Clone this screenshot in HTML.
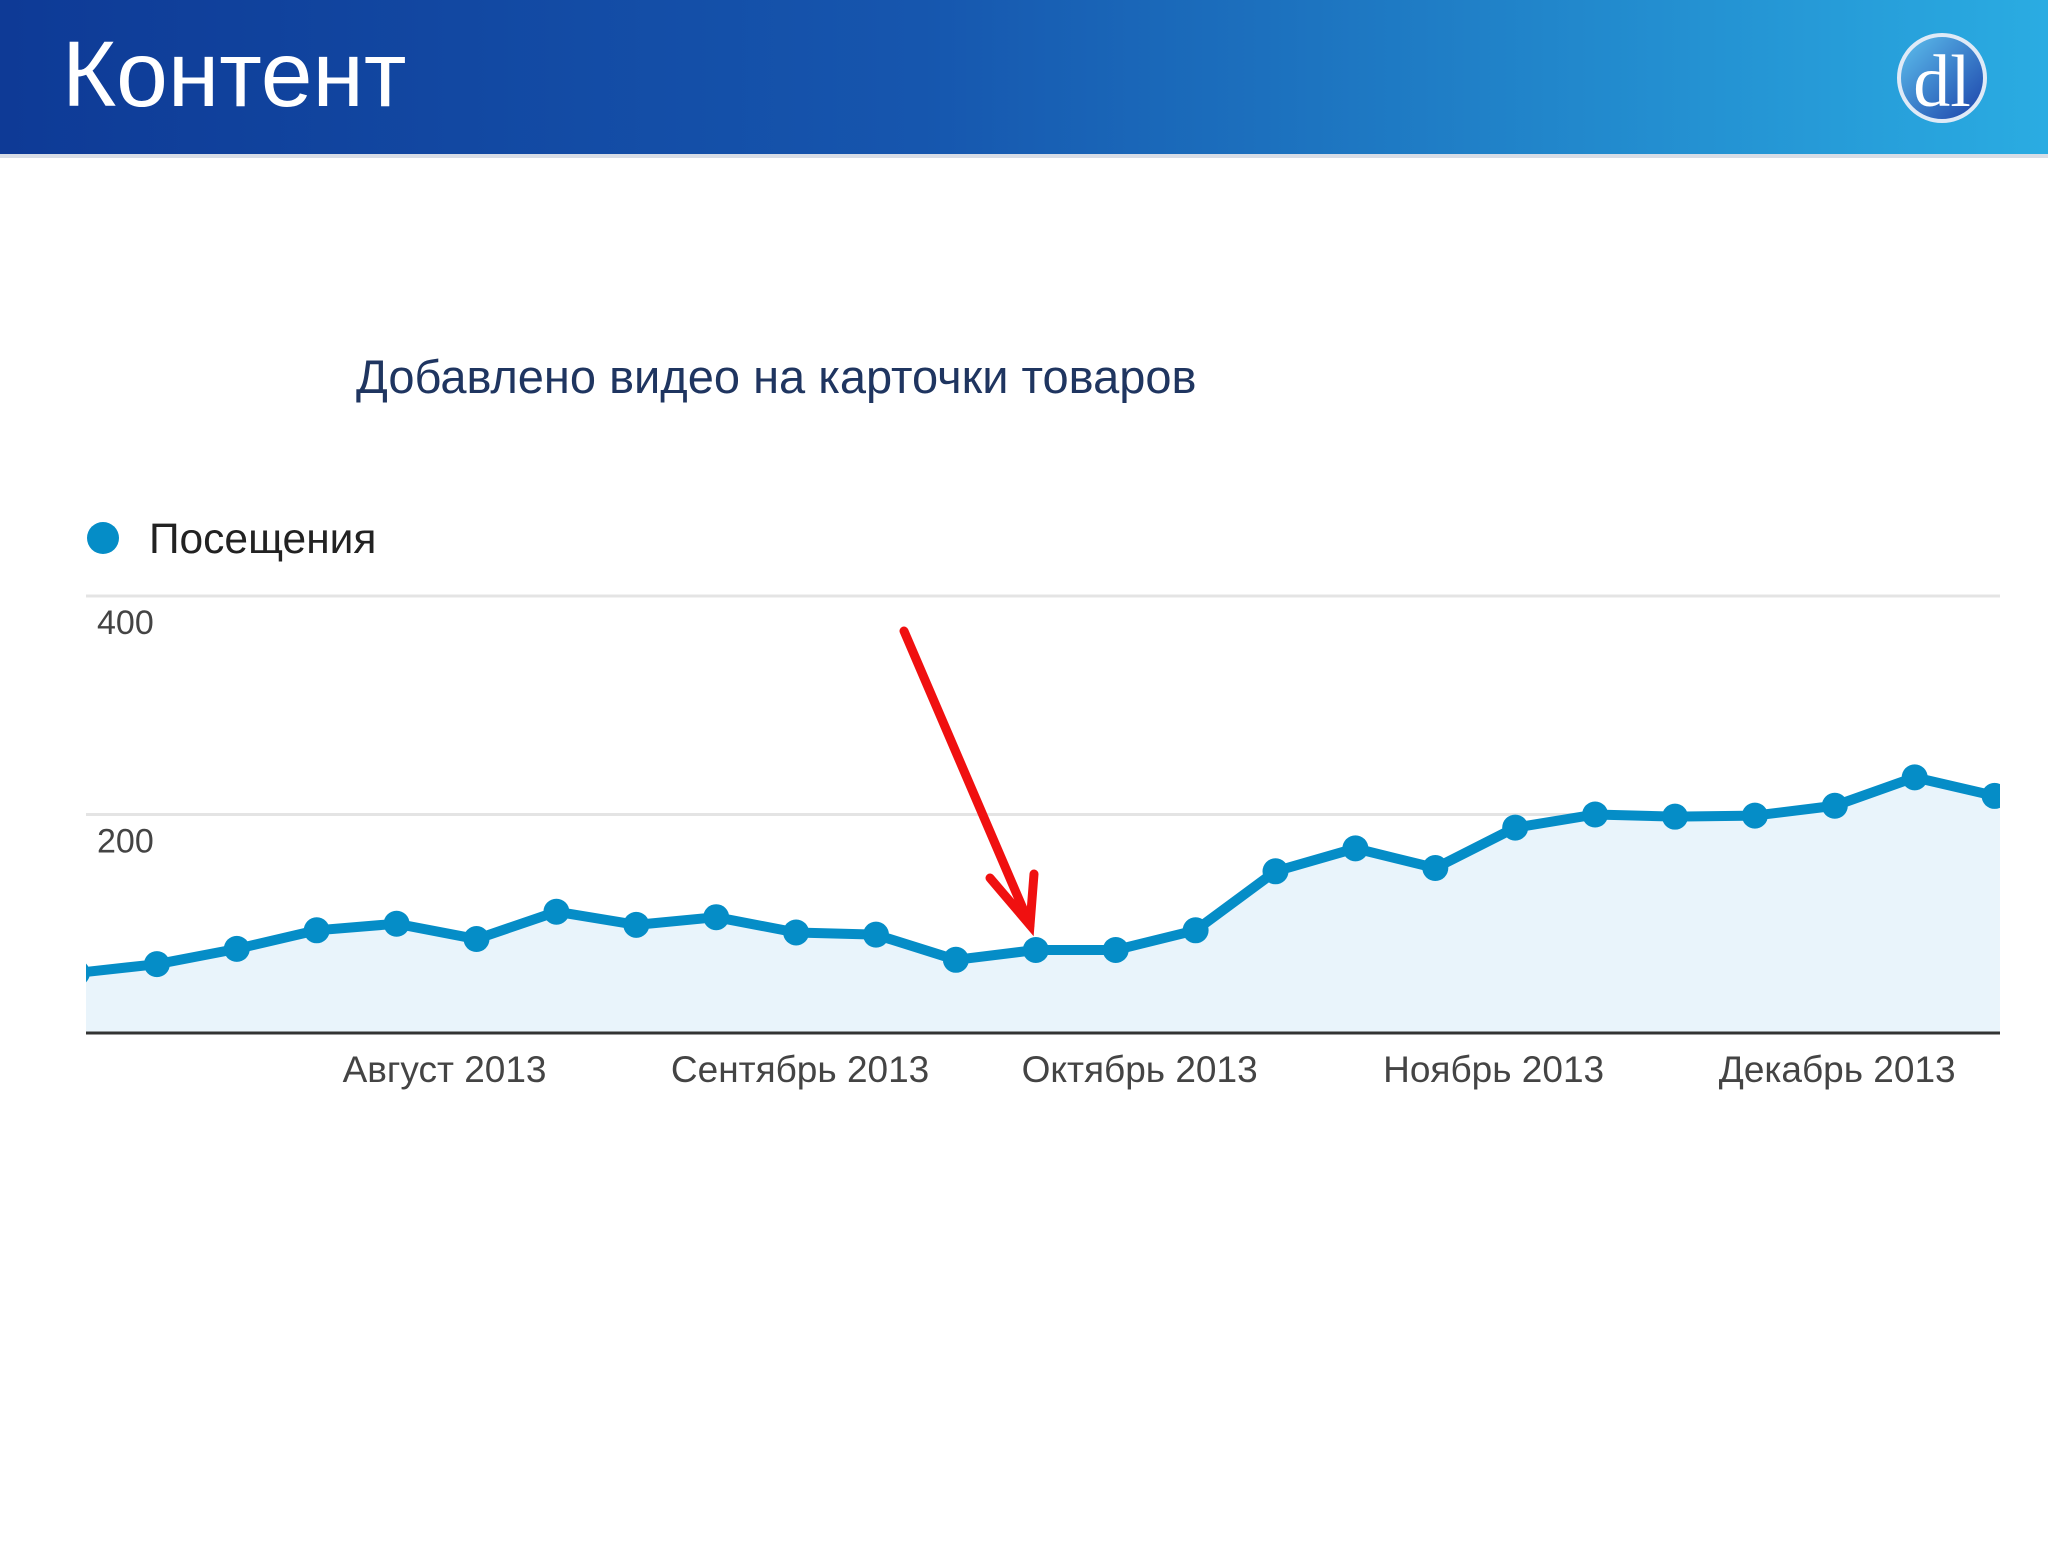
<!DOCTYPE html>
<html><head><meta charset="utf-8"><style>
body{margin:0;width:2048px;height:1536px;background:#fff;overflow:hidden;font-family:"Liberation Sans","DejaVu Sans",sans-serif}
</style></head><body>
<svg width="2048" height="1536" viewBox="0 0 2048 1536">
<defs>
<linearGradient id="hg" x1="0" x2="1" y1="0" y2="0"><stop offset="0" stop-color="#0e3a96"/><stop offset="0.45" stop-color="#1656ae"/><stop offset="1" stop-color="#2aace2"/></linearGradient>
<linearGradient id="lg" x1="0" x2="1" y1="0" y2="1"><stop offset="0" stop-color="#5fc3ef"/><stop offset="1" stop-color="#1a3fa8"/></linearGradient>
</defs>
<rect x="0" y="0" width="2048" height="154" fill="url(#hg)"/>
<rect x="0" y="154" width="2048" height="4" fill="#d8dde6"/>
<text x="62" y="106" font-size="93" fill="#fff">Контент</text>
<g>
<circle cx="1942" cy="78" r="43" fill="url(#lg)" stroke="#dfeaf7" stroke-width="4"/>
<text x="1942" y="106" text-anchor="middle" font-family="Liberation Serif,serif" font-size="74" fill="#fff">dl</text>
</g>
<text x="356" y="393" font-size="47" fill="#1f3560">Добавлено видео на карточки товаров</text>
<circle cx="103" cy="538" r="16" fill="#058dc7"/>
<text x="149" y="553" font-size="42.5" fill="#222">Посещения</text>
<g id="chart"></g>
<g stroke="#f01010" stroke-width="9" stroke-linecap="round" fill="none">
<line x1="904" y1="631" x2="1030" y2="925"/>
<polyline points="990,878 1030,925 1034,874"/>
</g>
</svg>
<script>
const categories=["w1","w2","w3","w4","w5","w6","w7","w8","w9","w10","w11","w12","w13","w14","w15","w16","w17","w18","w19","w20","w21","w22","w23","w24","w25"];
const visits=[55,63,77,94,100,86,111,99,106,92,90,67,76,76,94,148,169,151,188,200,198,199,208,234,217];
const yTicks=[200,400];
const monthLabels=["Август 2013","Сентябрь 2013","Октябрь 2013","Ноябрь 2013","Декабрь 2013"];
const monthIndex=[4.6,9.05,13.3,17.73,22.03];
const NS="http://www.w3.org/2000/svg";
const g=document.getElementById('chart');
const L=86,R=2000,B=1033,T=596;
const x=i=>77+i*79.9;
const y=v=>B-(B-T)*v/400;
function mk(t,a){const e=document.createElementNS(NS,t);for(const k in a)e.setAttribute(k,a[k]);g.appendChild(e);return e;}
yTicks.forEach(v=>{
 const l=mk('line',{x1:L,x2:R,y1:y(v),y2:y(v),stroke:'#e4e4e4','stroke-width':3});
 
 
 const t=mk('text',{x:97,y:y(v)+38,'font-size':34,fill:'#444'});t.textContent=v;
 
 
});
const n=visits.length;
const slope=(visits[n-1]-visits[n-2])/(x(n-1)-x(n-2));
const endV=visits[n-1]+slope*(R+10-x(n-1));
let pts=visits.map((v,i)=>x(i)+','+y(v)).join(' ');
const area=mk('polygon',{points:x(0)+','+B+' '+pts+' '+(R+10)+','+y(endV)+' '+(R+10)+','+B,fill:'#e9f4fb'});


const line=mk('polyline',{points:pts+' '+(R+10)+','+y(endV),fill:'none',stroke:'#058dc7','stroke-width':10,'stroke-linejoin':'round'});


visits.forEach((v,i)=>{
 const c=mk('circle',{cx:x(i),cy:y(v),r:13,fill:'#058dc7'});
 
 
});
const clip=mk('rect',{x:0,y:560,width:L,height:500,fill:'#fff'});


const clip2=mk('rect',{x:R,y:560,width:48,height:500,fill:'#fff'});


const ax=mk('line',{x1:L,x2:R,y1:B,y2:B,stroke:'#333','stroke-width':3});


monthLabels.forEach((m,i)=>{
 const t=mk('text',{x:x(monthIndex[i]),y:1082,'font-size':37,fill:'#444','text-anchor':'middle'});t.textContent=m;
 
 
});
</script>
</body></html>
